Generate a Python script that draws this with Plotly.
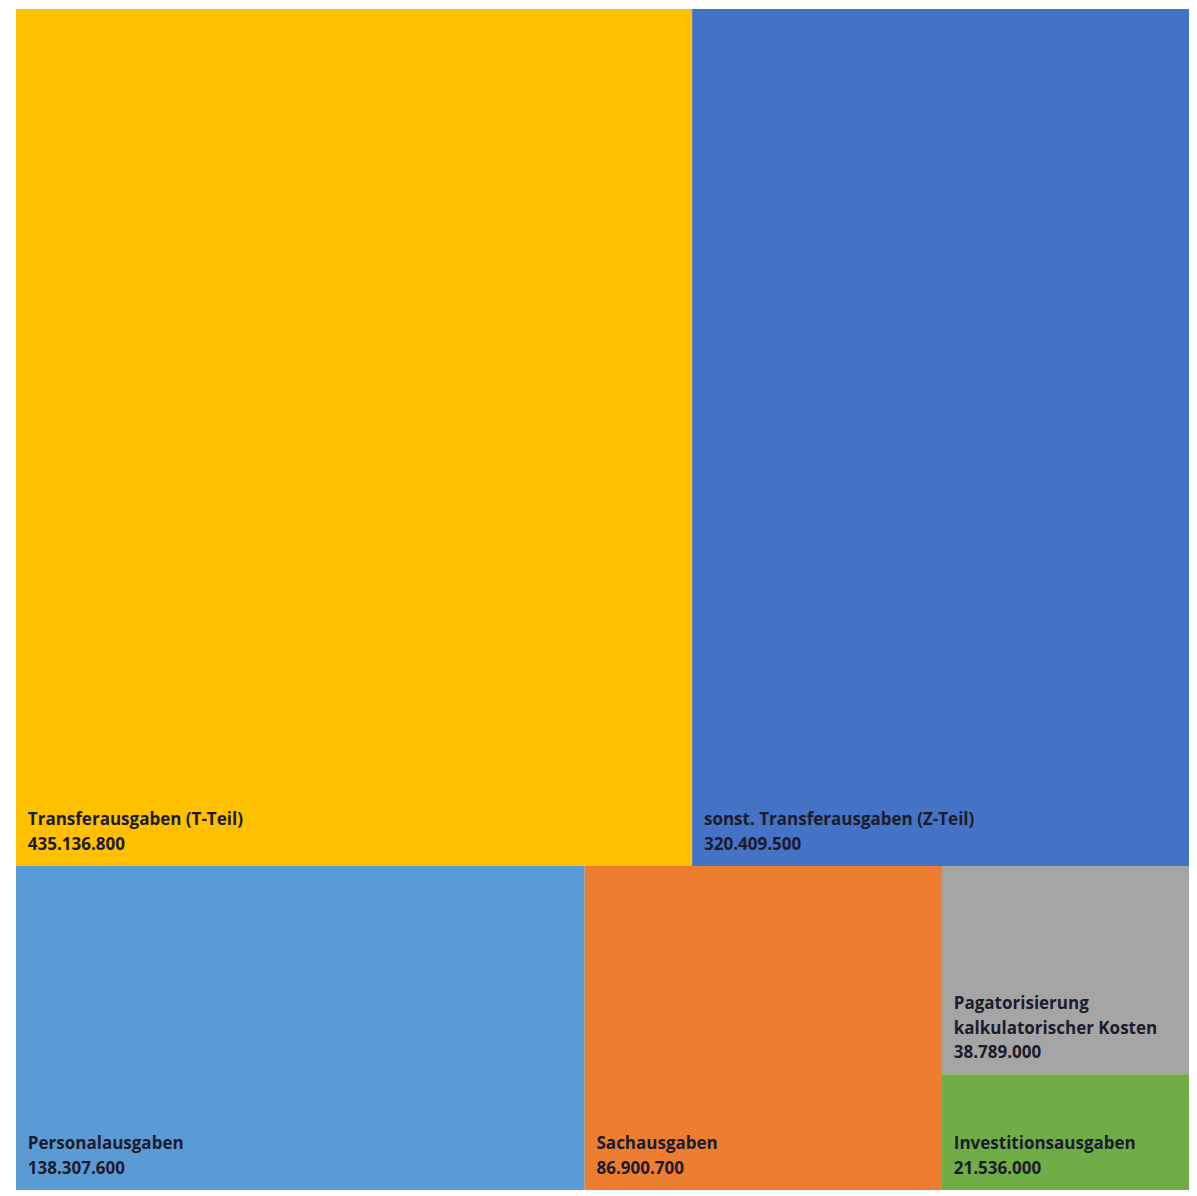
import plotly.graph_objects as go

labels = [
    "Transferausgaben (T-Teil)",
    "sonst. Transferausgaben (Z-Teil)",
    "Personalausgaben",
    "Sachausgaben",
    "Pagatorisierung<br>\u00a0\u00a0kalkulatorischer Kosten",
    "Investitionsausgaben",
]
values = [435136800, 320409500, 138307600, 86900700, 38789000, 21536000]
colors = ["#FFC000", "#4472C4", "#5B9BD5", "#ED7D31", "#A5A5A5", "#70AD47"]

pad = "\u00a0\u00a0"
tmpl = (
    "<span style='font-size:17px'>" + pad + "%{label}</span><br>"
    "<span style='font-size:17px'>" + pad + "%{value:,}</span>"
    "<span style='font-size:44px'>\u00a0</span>"
)
fig = go.Figure(go.Treemap(
    labels=labels,
    parents=[""] * len(labels),
    values=values,
    marker=dict(colors=colors, line=dict(width=0), pad=dict(t=0, l=0, r=0, b=0)),
    texttemplate=tmpl,
    textposition="bottom left",
    textfont=dict(family="Open Sans", size=19, color="#1b1b2b", weight="bold"),
    tiling=dict(packing="squarify", pad=0),
    pathbar=dict(visible=False),
    sort=True,
))
fig.update_layout(
    width=1197, height=1196,
    margin=dict(l=8, r=15, t=1, b=14),
    paper_bgcolor="white",
    separators=",.",
)
fig.write_html("out.html")
